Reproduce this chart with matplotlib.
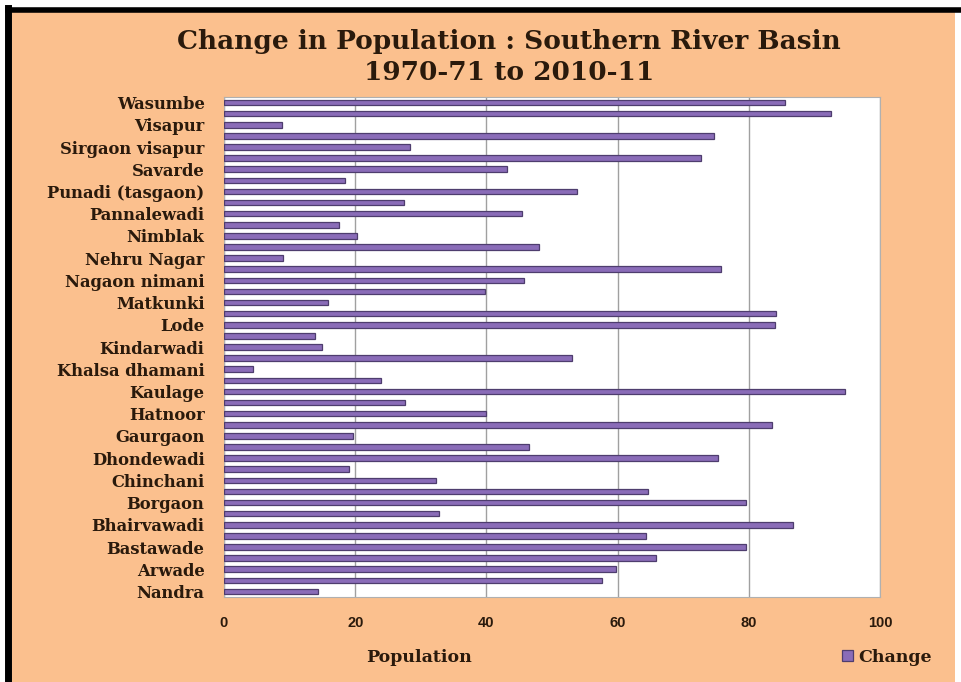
import numpy as np
import matplotlib.pyplot as plt
from matplotlib.patches import Rectangle
from matplotlib.lines import Line2D

# Données (de bas en haut), une étiquette sur deux est affichée
villages = ["Nandra", "", "Arwade", "", "Bastawade", "", "Bhairvawadi", "",
            "Borgaon", "", "Chinchani", "", "Dhondewadi", "", "Gaurgaon", "",
            "Hatnoor", "", "Kaulage", "", "Khalsa dhamani", "", "Kindarwadi", "",
            "Lode", "", "Matkunki", "", "Nagaon nimani", "", "Nehru Nagar", "",
            "Nimblak", "", "Pannalewadi", "", "Punadi (tasgaon)", "",
            "Savarde", "", "Sirgaon visapur", "", "Visapur", "", "Wasumbe"]
change = [14.4, 57.6, 59.7, 65.9, 79.6, 64.4, 86.7, 32.8, 79.6, 64.6,
          32.3, 19.0, 75.3, 46.5, 19.7, 83.5, 40.0, 27.6, 94.7, 24.0,
          4.4, 53.0, 14.9, 13.9, 84.0, 84.2, 15.9, 39.8, 45.7, 75.7,
          9.0, 48.0, 20.3, 17.5, 45.5, 27.4, 53.8, 18.4, 43.2, 72.7,
          28.4, 74.7, 8.8, 92.5, 85.5]
xticks = [0, 20, 40, 60, 80, 100]

orange = "#fbc08e"
txt = "#2a1a0c"
purple = "#8a6cb8"
serif = "DejaVu Serif"

fig = plt.figure(figsize=(9.61, 6.82), dpi=100)
fig.patch.set_facecolor("white")

# cadre orange + bord noir
fig.add_artist(Rectangle((12/961, 0), 1 - 18/961, 1 - 12/682,
                         transform=fig.transFigure, facecolor=orange,
                         edgecolor="none", zorder=-5))
fig.add_artist(Line2D([8/961, 8/961], [0, 1 - 8/682], transform=fig.transFigure,
                      color="black", lw=5, zorder=-4))
fig.add_artist(Line2D([8/961, 1], [1 - 10/682, 1 - 10/682], transform=fig.transFigure,
                      color="black", lw=4, zorder=-4))

ax = fig.add_axes([224/961, 1 - 597/682, 656/961, 500/682])
ax.set_facecolor("white")

y = np.arange(len(change))
ax.barh(y, change, height=0.5, color=purple, edgecolor="#4e3d6e",
        linewidth=0.9, zorder=3, label="Change")

ax.set_xlim(0, 100)
ax.set_ylim(-0.5, len(change) - 0.5)
ax.set_xticks(xticks)
ax.set_xticklabels([str(v) for v in xticks], family="Liberation Sans",
                   fontweight="bold", color=txt, fontsize=10.5)
ax.set_yticks(y)
ax.set_yticklabels(villages, family=serif, fontweight="bold",
                   color=txt, fontsize=11.8)
ax.tick_params(length=0, axis="x", pad=14)
ax.tick_params(length=0, axis="y", pad=14)
ax.grid(axis="x", color="#a0a0a0", linewidth=1, zorder=0)
for s in ax.spines.values():
    s.set_color("#b0b0b0")

fig.text(509/961, 1 - 42/682, "Change in Population : Southern River Basin",
         ha="center", va="center", family=serif,
         fontweight="bold", fontsize=19, color=txt)
fig.text(509/961, 1 - 72/682, "1970-71 to 2010-11", ha="center", va="center",
         family=serif, fontweight="bold", fontsize=19, color=txt)
fig.text(419/961, 1 - 658/682, "Population", ha="center", va="center",
         family=serif, fontweight="bold", fontsize=12.5, color=txt)

leg = fig.legend(loc="center", bbox_to_anchor=(887/961, 1 - 657/682),
                 frameon=False, handlelength=0.6, handleheight=0.6,
                 handletextpad=0.3,
                 prop={"family": serif, "weight": "bold", "size": 12.5})
for t in leg.get_texts():
    t.set_color(txt)

fig.savefig("out.png", dpi=100, facecolor=fig.get_facecolor())
